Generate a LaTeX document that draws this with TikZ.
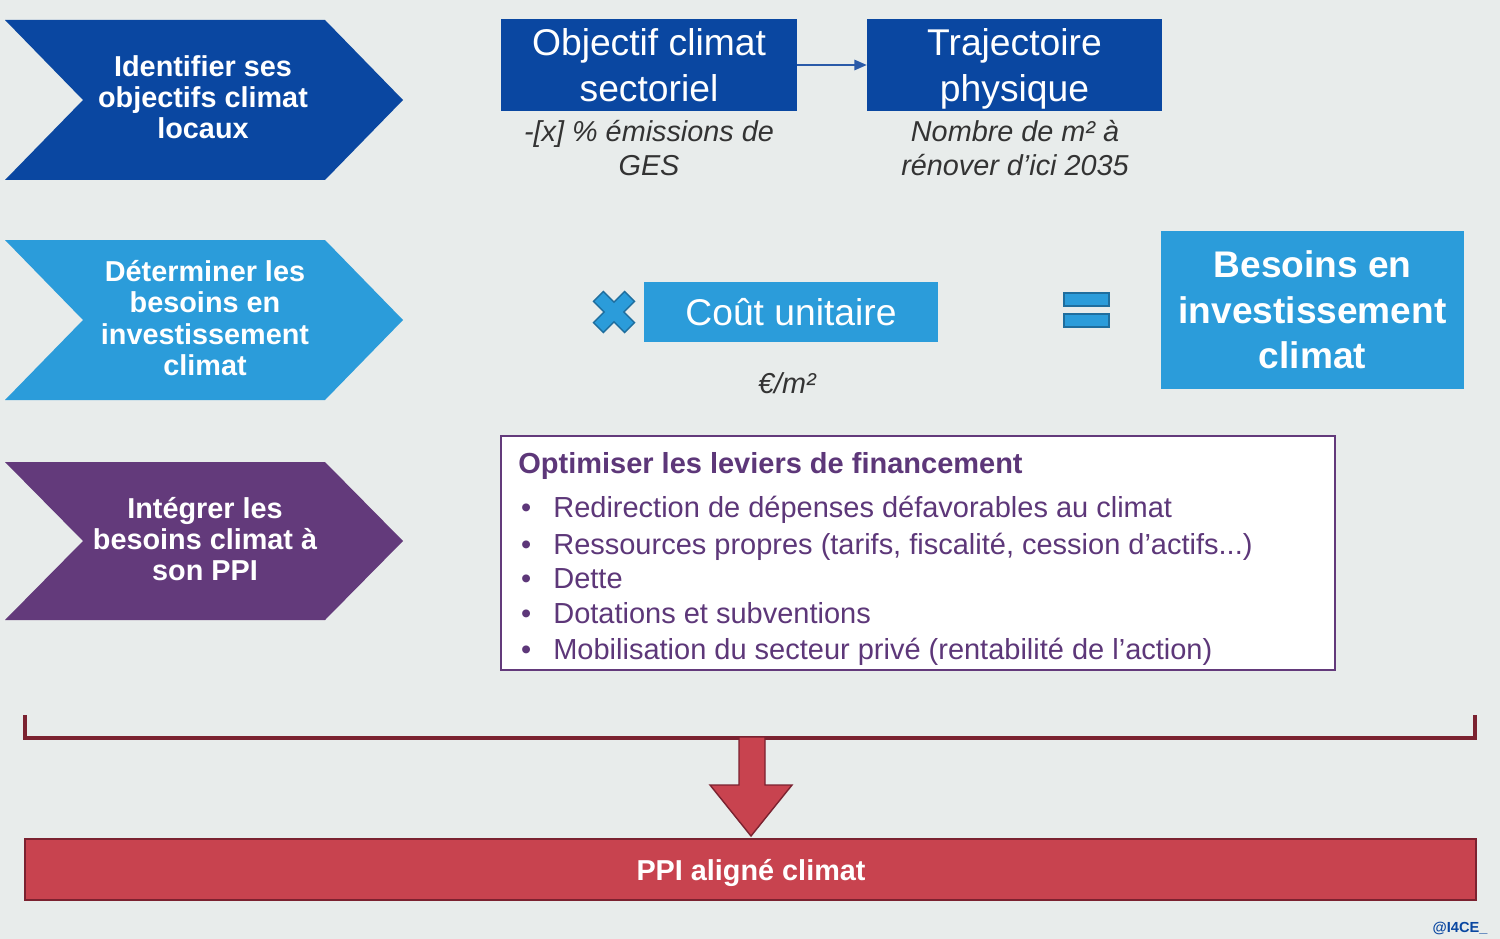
\documentclass[tikz,border=0pt]{standalone}
\usepackage{fontspec}
\setmainfont{Liberation Sans}
\usetikzlibrary{arrows.meta}
\definecolor{bg}{HTML}{E8ECEB}
\definecolor{dblue}{HTML}{0A47A1}
\definecolor{lblue}{HTML}{2B9CDA}
\definecolor{lbord}{HTML}{1F6E9E}
\definecolor{purp}{HTML}{633A7B}
\definecolor{ptext}{HTML}{5D3779}
\definecolor{redf}{HTML}{C8434F}
\definecolor{dred}{HTML}{7B2230}
\definecolor{greyt}{HTML}{333333}
\definecolor{arrblue}{HTML}{2A5AA8}
\tikzset{
  chevtext/.style={text=white, align=center, inner sep=0pt,
    font=\bfseries\fontsize{16.4}{17.8}\selectfont},
  dbox/.style={fill=dblue, text=white, align=center, inner sep=0pt,
    minimum width=5.92cm, minimum height=1.84cm,
    font=\fontsize{21.2}{26}\selectfont},
  subtxt/.style={text=greyt, align=center, inner sep=0pt,
    font=\itshape\fontsize{16.4}{19.3}\selectfont},
  lbbox/.style={fill=lblue, text=white, align=center, inner sep=0pt},
  listline/.style={anchor=west, text=ptext, inner sep=0pt,
    text height=12pt, text depth=3.5pt,
    font=\fontsize{16.5}{19.8}\selectfont},
  conn/.style={draw=arrblue, line width=0.8pt, -{Triangle[length=7pt,width=6pt]}},
}
\begin{document}
\begin{tikzpicture}[x=0.02cm,y=-0.02cm]
\fill[bg] (0,0) rectangle (1500,939);
\useasboundingbox (0,0) rectangle (1500,939);

% chevrons
\fill[dblue] (5,20) -- (325,20) -- (403,100) -- (325,180) -- (5,180) -- (83,100) -- cycle;
\node[chevtext] (c1) at (203,97) {Identifier ses\\objectifs climat\\locaux};
\fill[lblue] (5,240) -- (325,240) -- (403,320) -- (325,400) -- (5,400) -- (83,320) -- cycle;
\node[chevtext] (c2) at (205,318) {Déterminer les\\besoins en\\investissement\\climat};
\fill[purp] (5,462) -- (325,462) -- (403,541) -- (325,620) -- (5,620) -- (83,541) -- cycle;
\node[chevtext] (c3) at (205,539) {Intégrer les\\besoins climat à\\son PPI};

% row 1
\node[dbox] (obj) at (649,65) {Objectif climat\\sectoriel};
\node[dbox, minimum width=5.9cm] (traj) at (1014.5,65) {Trajectoire\\\smash{physique}};
\draw[conn] (obj.east) -- (traj.west);
\node[subtxt] (objs) at (649,148) {-[x] \% émissions de\\GES};
\node[subtxt] (trajs) at (1015,148) {Nombre de m² à\\rénover d’ici 2035};

% row 2
\begin{scope}[shift={(614,312)}, rotate=45]
\filldraw[fill=lblue, draw=lbord, line width=0.8pt]
  (7,22) -- (7,7) -- (22,7) -- (22,-7) -- (7,-7) -- (7,-22) -- (-7,-22) -- (-7,-7)
  -- (-22,-7) -- (-22,7) -- (-7,7) -- (-7,22) -- cycle;
\end{scope}
\node[lbbox, minimum width=5.88cm, minimum height=1.2cm,
  font=\fontsize{21.2}{26}\selectfont] (cout) at (791,312) {Coût unitaire};
\node[subtxt] (couts) at (787,383) {€/m²};
\filldraw[fill=lblue, draw=lbord, line width=0.8pt] (1064,293) rectangle (1109,306);
\filldraw[fill=lblue, draw=lbord, line width=0.8pt] (1064,314) rectangle (1109,327);
\node[lbbox, minimum width=6.06cm, minimum height=3.16cm,
  font=\bfseries\fontsize{21.1}{25.8}\selectfont] (bes) at (1312.5,310)
  {Besoins en\\investissement\\climat};

% row 3
\node[draw=purp, line width=1.5pt, fill=white, minimum width=16.68cm,
  minimum height=4.68cm, inner sep=0pt] (fin) at (918,553) {};
\node[listline, font=\bfseries\fontsize{16.5}{19.8}\selectfont] (fint) at (518,466.5)
  {Optimiser les leviers de financement};
\node[listline] (l1) at (553,510.5) {\llap{•\hspace{12.5pt}}Redirection de dépenses défavorables au climat};
\node[listline] (l2) at (553,547) {\llap{•\hspace{12.5pt}}Ressources propres (tarifs, fiscalité, cession d’actifs...)};
\node[listline] (l3) at (553,581.5) {\llap{•\hspace{12.5pt}}Dette};
\node[listline] (l4) at (553,616.5) {\llap{•\hspace{12.5pt}}Dotations et subventions};
\node[listline] (l5) at (553,652) {\llap{•\hspace{12.5pt}}Mobilisation du secteur privé (rentabilité de l’action)};

% bracket and arrow
\draw[dred, line width=1.8pt] (25,715) -- (25,738) -- (1475,738) -- (1475,715);
\node[fill=redf, draw=dred, line width=1pt, text=white, inner sep=0pt,
  minimum width=29.02cm, minimum height=1.22cm, inner sep=0pt,
  font=\bfseries\fontsize{16.4}{19}\selectfont] (ppi) at (750.5,869.5) {};
\node[text=white, inner sep=0pt, text height=12pt, text depth=3.5pt,
  font=\bfseries\fontsize{16.4}{19}\selectfont] (ppit) at (751,873.5) {PPI aligné climat};
\filldraw[fill=redf, draw=dred, line width=0.8pt]
  (739,737) -- (765,737) -- (765,785) -- (792,785) -- (751,836) -- (710,785) -- (739,785) -- cycle;

\node[text=dblue, inner sep=0pt, font=\bfseries\fontsize{8.3}{10}\selectfont] (tag) at (1460,928) {@I4CE\_};
\end{tikzpicture}
\end{document}
